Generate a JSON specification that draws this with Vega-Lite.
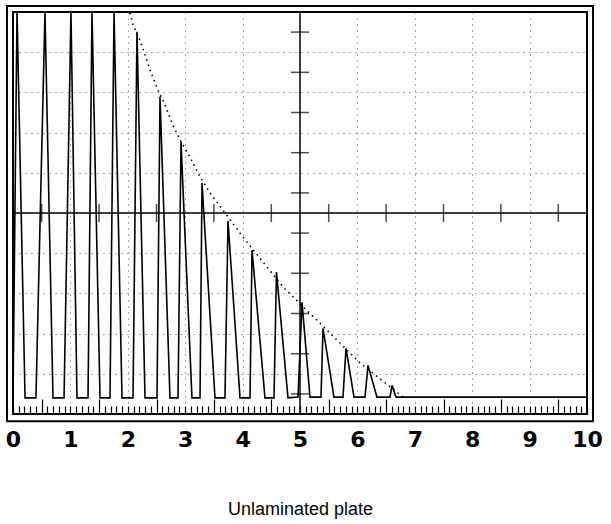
{
  "$schema": "https://vega.github.io/schema/vega-lite/v6.json",
  "width": 574,
  "height": 402,
  "autosize": {"type": "none"},
  "padding": {"left": 13, "top": 12, "right": 24, "bottom": 110},
  "background": "white",
  "config": {"view": {"stroke": "black", "strokeWidth": 2}},
  "datasets": {
    "trace": [
      {"x": 0.0, "y": -4.6}, {"x": 0.07, "y": 5}, {"x": 0.21, "y": -4.6}, {"x": 0.40, "y": -4.6},
      {"x": 0.557, "y": 5}, {"x": 0.697, "y": -4.6}, {"x": 0.889, "y": -4.6},
      {"x": 1.01, "y": 5}, {"x": 1.115, "y": -4.6}, {"x": 1.307, "y": -4.6},
      {"x": 1.376, "y": 5}, {"x": 1.516, "y": -4.6}, {"x": 1.69, "y": -4.6},
      {"x": 1.76, "y": 5}, {"x": 1.899, "y": -4.6}, {"x": 2.091, "y": -4.6},
      {"x": 2.16, "y": 4.51}, {"x": 2.30, "y": -4.6}, {"x": 2.509, "y": -4.6},
      {"x": 2.561, "y": 2.89}, {"x": 2.735, "y": -4.6}, {"x": 2.875, "y": -4.6},
      {"x": 2.927, "y": 1.77}, {"x": 3.118, "y": -4.6}, {"x": 3.258, "y": -4.6},
      {"x": 3.293, "y": 0.75}, {"x": 3.519, "y": -4.6}, {"x": 3.693, "y": -4.6},
      {"x": 3.746, "y": -0.20}, {"x": 3.955, "y": -4.6}, {"x": 4.129, "y": -4.6},
      {"x": 4.164, "y": -0.92}, {"x": 4.39, "y": -4.6}, {"x": 4.547, "y": -4.6},
      {"x": 4.59, "y": -1.47}, {"x": 4.791, "y": -4.6}, {"x": 4.965, "y": -4.58},
      {"x": 5.035, "y": -2.22}, {"x": 5.174, "y": -4.58}, {"x": 5.366, "y": -4.58},
      {"x": 5.401, "y": -2.87}, {"x": 5.592, "y": -4.58}, {"x": 5.749, "y": -4.58},
      {"x": 5.801, "y": -3.37}, {"x": 5.941, "y": -4.58}, {"x": 6.132, "y": -4.58},
      {"x": 6.185, "y": -3.79}, {"x": 6.341, "y": -4.58}, {"x": 6.568, "y": -4.58},
      {"x": 6.603, "y": -4.29}, {"x": 6.672, "y": -4.58}, {"x": 10.0, "y": -4.58}
    ],
    "envelope": [
      {"x": 2.038, "y": 4.98}, {"x": 2.091, "y": 4.68}, {"x": 2.213, "y": 4.30},
      {"x": 2.300, "y": 3.93}, {"x": 2.387, "y": 3.56}, {"x": 2.509, "y": 3.11},
      {"x": 2.648, "y": 2.69}, {"x": 2.770, "y": 2.24}, {"x": 2.909, "y": 1.82},
      {"x": 3.084, "y": 1.39}, {"x": 3.258, "y": 0.90}, {"x": 3.432, "y": 0.50},
      {"x": 3.659, "y": 0.07}, {"x": 4.007, "y": -0.60}, {"x": 4.355, "y": -1.22},
      {"x": 4.704, "y": -1.84}, {"x": 5.383, "y": -2.79}, {"x": 6.045, "y": -3.73},
      {"x": 6.794, "y": -4.58}
    ],
    "cross": [{"cx": 5, "cy": 0}],
    "hticks": [
      {"x": 0.5}, {"x": 1.5}, {"x": 2.5}, {"x": 3.5}, {"x": 4.5},
      {"x": 5.5}, {"x": 6.5}, {"x": 7.5}, {"x": 8.5}, {"x": 9.5}
    ],
    "vticks": [
      {"y": 4.5}, {"y": 3.5}, {"y": 2.5}, {"y": 1.5}, {"y": 0.5},
      {"y": -0.5}, {"y": -1.5}, {"y": -2.5}, {"y": -3.5}, {"y": -4.5}
    ],
    "frame": [{"x1": -0.105, "x2": 10.105, "y1": 5.15, "y2": -5.18}]
  },
  "layer": [
    {
      "data": {"name": "trace"},
      "mark": {"type": "line", "color": "black", "strokeWidth": 1.6, "clip": true},
      "encoding": {
        "x": {
          "field": "x", "type": "quantitative",
          "scale": {"domain": [0, 10], "nice": false, "zero": false},
          "axis": {
            "title": "Unlaminated plate",
            "tickCount": 100,
            "grid": true,
            "gridColor": "#555555",
            "gridDash": [1, 5],
            "gridOpacity": {"condition": {"test": "datum.value % 1 == 0 && datum.value > 0 && datum.value < 10 && datum.value != 5", "value": 1}, "value": 0},
            "ticks": true,
            "tickColor": "black",
            "tickWidth": 1.2,
            "tickSize": {"condition": {"test": "datum.value % 1 == 0.5", "value": -15}, "value": -8},
            "domain": false,
            "labelExpr": "datum.value % 1 == 0 ? '' + datum.value : ''",
            "labelFont": "DejaVu Sans",
            "labelFontWeight": "bold",
            "labelFontSize": 22,
            "labelColor": "black",
            "labelPadding": 23,
            "labelOverlap": false,
            "labelFlush": false,
            "labelBound": false,
            "titleFont": "Liberation Sans",
            "titleFontSize": 18,
            "titleFontWeight": "normal",
            "titleColor": "black",
            "titlePadding": 50
          }
        },
        "y": {
          "field": "y", "type": "quantitative",
          "scale": {"domain": [-5, 5], "nice": false, "zero": false},
          "axis": {
            "title": null,
            "values": [-4, -3, -2, -1, 1, 2, 3, 4],
            "grid": true,
            "gridColor": "#555555",
            "gridDash": [1, 5],
            "ticks": false,
            "labels": false,
            "domain": false
          }
        }
      }
    },
    {
      "data": {"name": "envelope"},
      "mark": {"type": "line", "color": "black", "strokeWidth": 1.6, "strokeDash": [1.5, 4], "clip": true},
      "encoding": {
        "x": {"field": "x", "type": "quantitative"},
        "y": {"field": "y", "type": "quantitative"}
      }
    },
    {
      "data": {"name": "cross"},
      "mark": {"type": "rule", "color": "black", "strokeWidth": 1.5},
      "encoding": {"y": {"field": "cy", "type": "quantitative"}}
    },
    {
      "data": {"name": "cross"},
      "mark": {"type": "rule", "color": "black", "strokeWidth": 1.5},
      "encoding": {"x": {"field": "cx", "type": "quantitative"}}
    },
    {
      "data": {"name": "hticks"},
      "mark": {"type": "tick", "orient": "vertical", "color": "black", "size": 18, "thickness": 1.5},
      "encoding": {
        "x": {"field": "x", "type": "quantitative"},
        "y": {"datum": 0, "type": "quantitative"}
      }
    },
    {
      "data": {"name": "vticks"},
      "mark": {"type": "tick", "orient": "horizontal", "color": "black", "size": 18, "thickness": 1.5},
      "encoding": {
        "x": {"datum": 5, "type": "quantitative"},
        "y": {"field": "y", "type": "quantitative"}
      }
    },
    {
      "data": {"name": "frame"},
      "mark": {"type": "rect", "fill": null, "fillOpacity": 0, "stroke": "black", "strokeWidth": 2, "clip": false},
      "encoding": {
        "x": {"field": "x1", "type": "quantitative"},
        "x2": {"field": "x2"},
        "y": {"field": "y1", "type": "quantitative"},
        "y2": {"field": "y2"}
      }
    }
  ]
}
